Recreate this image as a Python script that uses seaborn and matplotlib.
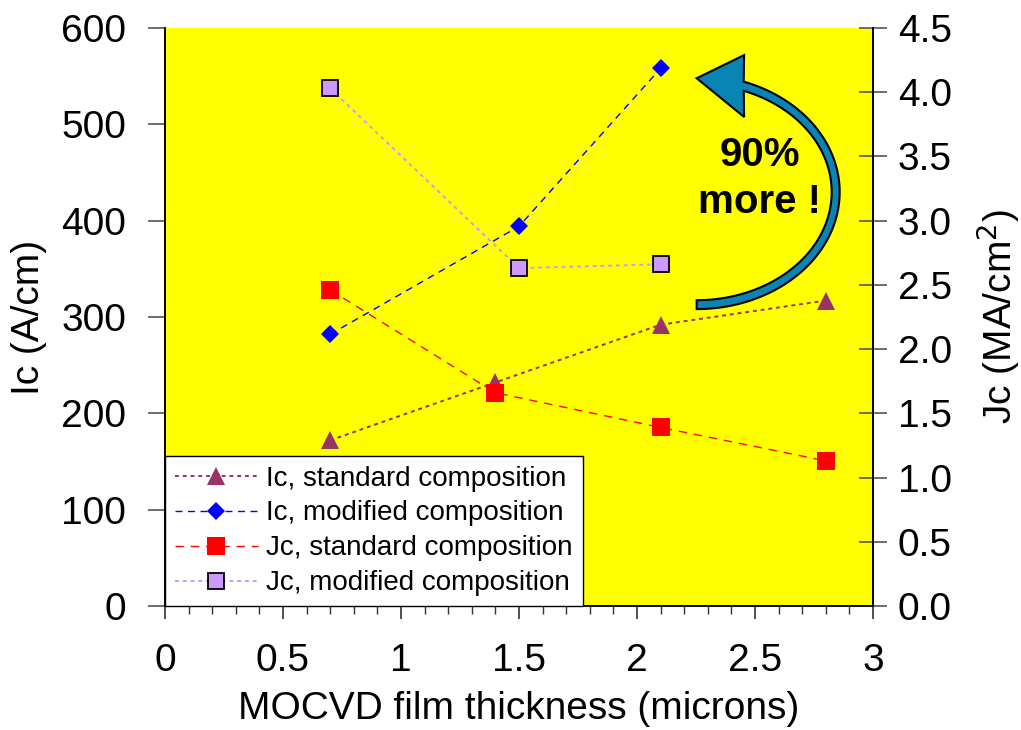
import numpy as np
import matplotlib
matplotlib.use("Agg")
import matplotlib.pyplot as plt
import seaborn as sns
from matplotlib.patches import Polygon
from matplotlib.ticker import MultipleLocator, FormatStrFormatter, FixedLocator, FixedFormatter

# Film thickness (microns) for each composition
thickness_std = [0.7, 1.4, 2.1, 2.8]
thickness_mod = [0.7, 1.5, 2.1]

# Critical current per width (A/cm)
ic_std = [172, 232, 292, 317]
ic_mod = [282, 394, 558]

# Critical current density (MA/cm^2)
jc_std = [2.46, 1.66, 1.39, 1.13]
jc_mod = [4.03, 2.63, 2.66]

x_ticks = [0, 0.5, 1, 1.5, 2, 2.5, 3]
x_tick_labels = ["0", "0.5", "1", "1.5", "2", "2.5", "3"]

labels = ["Ic, standard composition", "Ic, modified composition",
          "Jc, standard composition", "Jc, modified composition"]

sns.set_style("white")
plt.rcParams["font.family"] = ["Liberation Sans", "DejaVu Sans"]
plt.rcParams.update({"text.color": "black", "axes.labelcolor": "black",
                     "xtick.color": "black", "ytick.color": "black"})

fig = plt.figure(figsize=(10.21, 7.30), dpi=100)
ax = fig.add_axes([0.1616, 0.1699, 0.6934, 0.7918])
ax.set_facecolor("#FFFF00")
ax2 = ax.twinx()

sns.lineplot(x=thickness_std, y=ic_std, ax=ax, color="#993366",
             linestyle=(0, (2, 2)), linewidth=1.4, marker="^", markersize=13.5,
             markeredgewidth=0, label=labels[0])
sns.lineplot(x=thickness_mod, y=ic_mod, ax=ax, color="#0000FF",
             linestyle=(0, (5, 4)), linewidth=1.0, marker="D", markersize=9.5,
             markeredgewidth=0, label=labels[1])
sns.lineplot(x=thickness_std, y=jc_std, ax=ax2, color="#FF0000",
             linestyle=(0, (6, 5)), linewidth=1.0, marker="s", markersize=13,
             markeredgewidth=0, label=labels[2])
sns.lineplot(x=thickness_mod, y=jc_mod, ax=ax2, color="#CC99FF",
             linestyle=(0, (2, 2)), linewidth=1.4, marker="s", markersize=12,
             markeredgecolor="black", markeredgewidth=1.3, label=labels[3])

for a in (ax, ax2):
    if a.get_legend() is not None:
        a.get_legend().remove()

ax.set_xlim(0, 3)
ax.set_ylim(0, 600)
ax2.set_ylim(0, 4.5)

ax.xaxis.set_major_locator(FixedLocator(x_ticks))
ax.xaxis.set_major_formatter(FixedFormatter(x_tick_labels))
ax.xaxis.set_minor_locator(MultipleLocator(0.1))
ax.yaxis.set_major_locator(MultipleLocator(100))
ax2.yaxis.set_major_locator(MultipleLocator(0.5))
ax2.yaxis.set_major_formatter(FormatStrFormatter("%.1f"))

tick_font = 28
ax.tick_params(axis="x", which="major", direction="out", length=9, width=1.2,
               color="#333333", labelsize=tick_font, pad=18, bottom=True)
ax.tick_params(axis="x", which="minor", direction="out", length=6, width=1.0,
               color="#333333", bottom=True)
ax.tick_params(axis="y", which="major", direction="out", length=12, width=1.2,
               color="#555555", labelsize=tick_font, pad=16, left=True)
ax2.tick_params(axis="y", which="major", direction="inout", length=20, width=1.2,
                color="#555555", labelsize=tick_font, pad=8, right=True)

ax.set_xlabel("MOCVD film thickness (microns)", fontsize=28, labelpad=8)
ax.set_ylabel("Ic (A/cm)", fontsize=28, labelpad=10)
ax2.set_ylabel("Jc (MA/cm$^2$)", fontsize=28, labelpad=16)

for a in (ax, ax2):
    a.spines["top"].set_visible(False)
    for s in ("left", "right", "bottom"):
        a.spines[s].set_color("black")
        a.spines[s].set_linewidth(1.2)

# Combined legend for both axes
h1, l1 = ax.get_legend_handles_labels()
h2, l2 = ax2.get_legend_handles_labels()
leg = ax2.legend(h1 + h2, l1 + l2, loc="lower left", bbox_to_anchor=(0, 0),
                 borderaxespad=0, fontsize=20, frameon=True, fancybox=False,
                 framealpha=1, edgecolor="black", handlelength=3.0,
                 handletextpad=0.3, labelspacing=0.32, borderpad=0.35)
leg.get_frame().set_linewidth(1.0)

# Curved arrow pointing back toward the modified-composition peak
cx, cy = 0.751, 0.716
t_out = np.radians(np.linspace(-90, 70.8, 80))
t_in = np.radians(np.linspace(69.6, -90, 80))
outer = np.column_stack([cx + 0.202 * np.cos(t_out), cy + 0.2024 * np.sin(t_out)])
inner = np.column_stack([cx + 0.1907 * np.cos(t_in), cy + 0.187 * np.sin(t_in)])
head = np.array([[0.818, 0.953], [0.751, 0.913], [0.818, 0.846]])
arrow_pts = np.vstack([outer, head, inner])
ax2.add_patch(Polygon(arrow_pts, closed=True, transform=ax2.transAxes,
                      facecolor="#0885B5", edgecolor="black", linewidth=1.5,
                      zorder=5))
ax2.text(0.84, 0.74, "90%\nmore !", transform=ax2.transAxes, ha="center",
         va="center", fontsize=29, fontweight="bold", linespacing=1.3,
         zorder=6)

fig.savefig("out.png", dpi=100)
